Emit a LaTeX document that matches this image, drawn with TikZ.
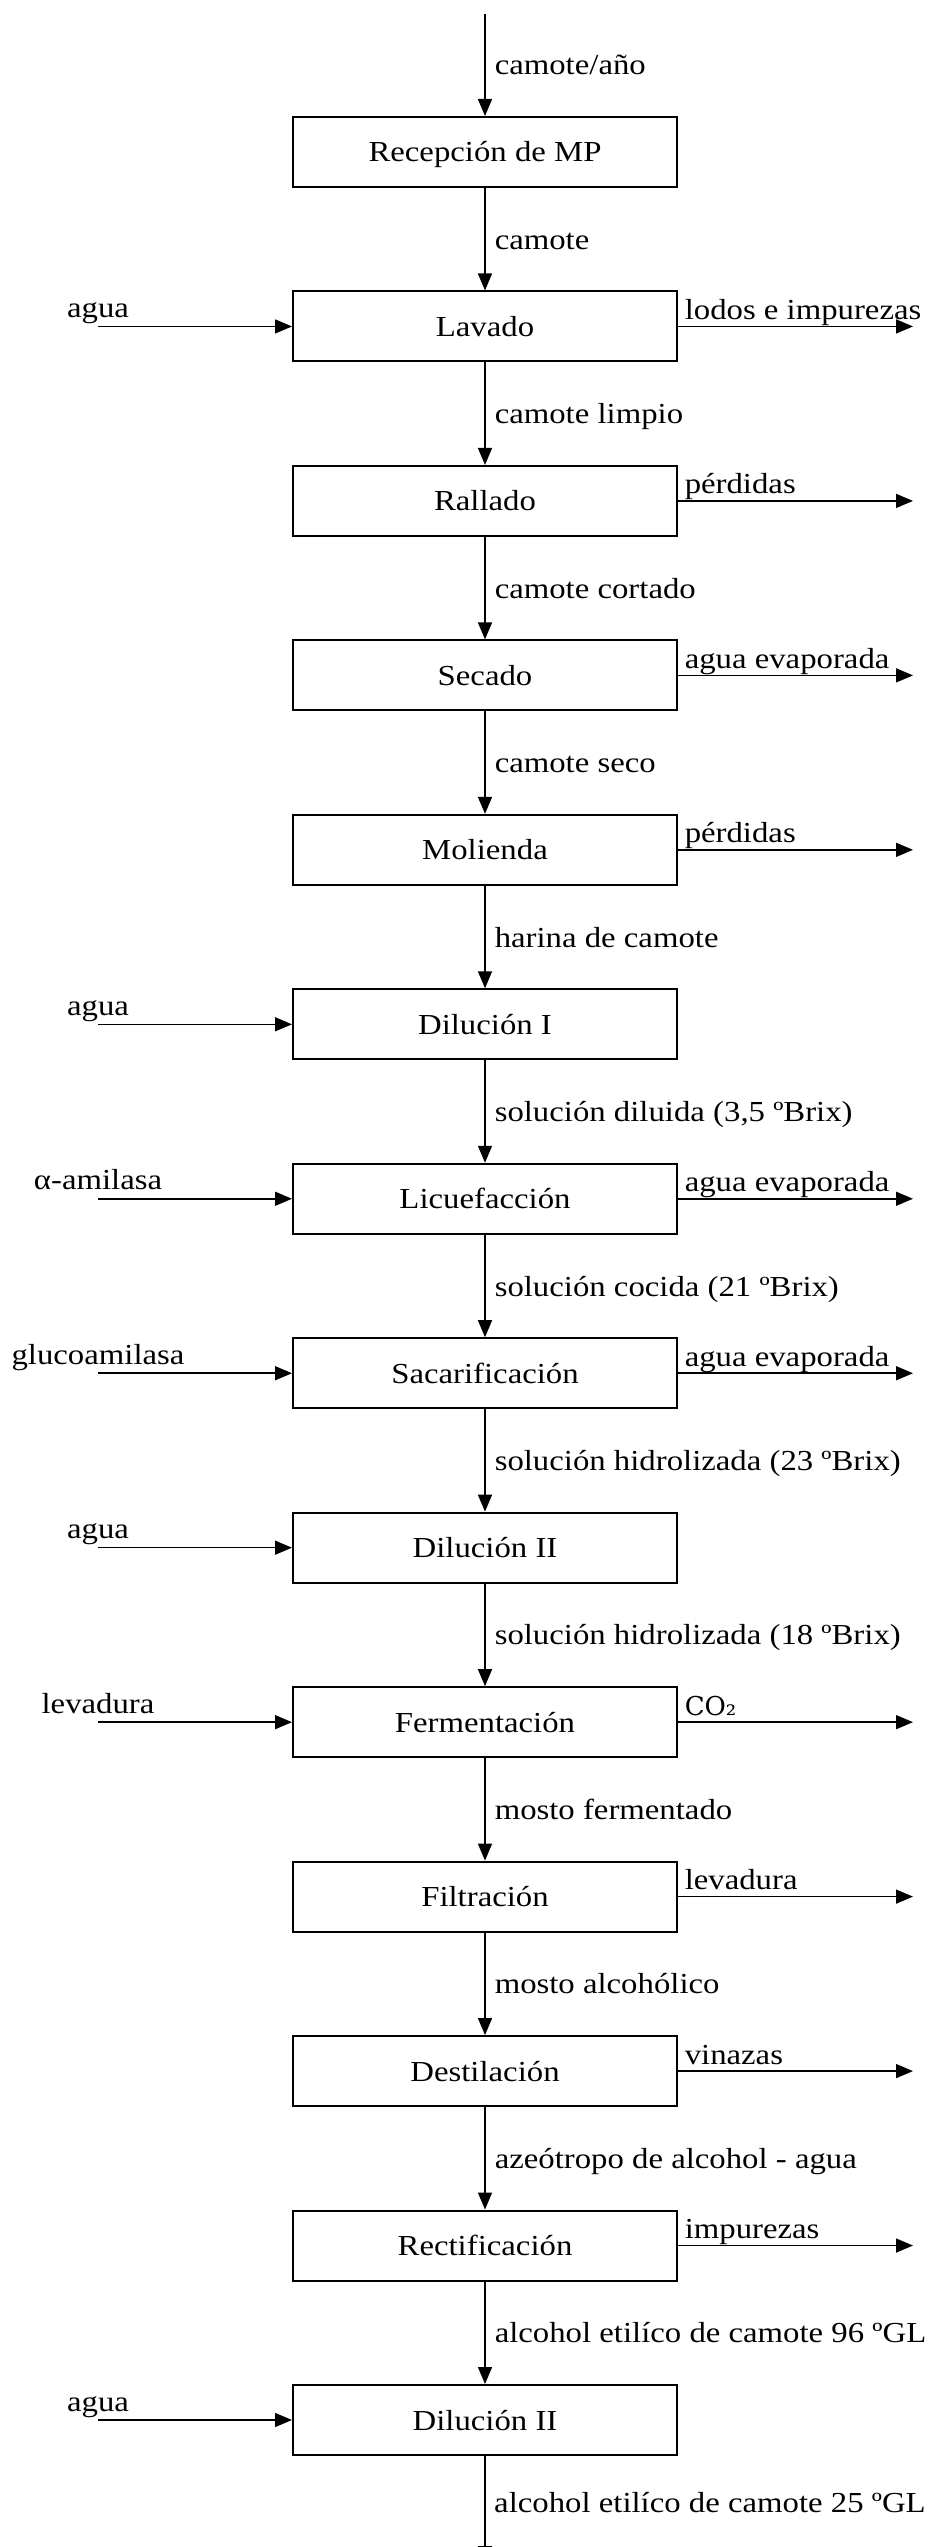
\documentclass[tikz,border=0pt]{standalone}
\usepackage{fontspec}
\setmainfont{Liberation Serif}[FakeStretch=1.13]
\newfontfamily\chemfont{DejaVu Serif}
\usetikzlibrary{arrows.meta}
\begin{document}
\begin{tikzpicture}[x=1pt,y=-1pt,
  font=\fontsize{29pt}{34pt}\selectfont,
  proc/.style={draw, line width=2pt, minimum width=384pt, minimum height=70pt,
    text height=20pt, text depth=0pt, inner sep=0pt},
  flow/.style={line width=1.5pt, -{Triangle[length=17pt,width=14pt]}},
  flowlabel/.style={midway, anchor=base west, xshift=9pt, yshift=-10pt, inner sep=0pt},
  outlabel/.style={pos=0, anchor=base west, xshift=6pt, yshift=7pt, inner sep=0pt},
  inlabel/.style={anchor=base, inner sep=0pt}]
\useasboundingbox (0,0) rectangle (931,2547);
\clip (0,0) rectangle (931,2547);

% process blocks
\node[proc] (b0)  at (485,152)     {Recepción de MP};
\node[proc] (b1)  at (485,326.46)  {Lavado};
\node[proc] (b2)  at (485,500.92)  {Rallado};
\node[proc] (b3)  at (485,675.38)  {Secado};
\node[proc] (b4)  at (485,849.84)  {Molienda};
\node[proc] (b5)  at (485,1024.3)  {Dilución I};
\node[proc] (b6)  at (485,1198.76) {Licuefacción};
\node[proc] (b7)  at (485,1373.22) {Sacarificación};
\node[proc] (b8)  at (485,1547.68) {Dilución II};
\node[proc] (b9)  at (485,1722.14) {Fermentación};
\node[proc] (b10) at (485,1896.6)  {Filtración};
\node[proc] (b11) at (485,2071.06) {Destilación};
\node[proc] (b12) at (485,2245.52) {Rectificación};
\node[proc] (b13) at (485,2419.98) {Dilución II};

% main stream
\coordinate (top) at (485,14);
\coordinate (bot) at (485,2563);
\draw[flow] (top) -- (b0) node[flowlabel] {camote/año};
\draw[flow] (b0) -- (b1) node[flowlabel] {camote};
\draw[flow] (b1) -- (b2) node[flowlabel] {camote limpio};
\draw[flow] (b2) -- (b3) node[flowlabel] {camote cortado};
\draw[flow] (b3) -- (b4) node[flowlabel] {camote seco};
\draw[flow] (b4) -- (b5) node[flowlabel] {harina de camote};
\draw[flow] (b5) -- (b6) node[flowlabel] {solución diluida (3,5 ºBrix)};
\draw[flow] (b6) -- (b7) node[flowlabel] {solución cocida (21 ºBrix)};
\draw[flow] (b7) -- (b8) node[flowlabel] {solución hidrolizada (23 ºBrix)};
\draw[flow] (b8) -- (b9) node[flowlabel] {solución hidrolizada (18 ºBrix)};
\draw[flow] (b9) -- (b10) node[flowlabel] {mosto fermentado};
\draw[flow] (b10) -- (b11) node[flowlabel] {mosto alcohólico};
\draw[flow] (b11) -- (b12) node[flowlabel] {azeótropo de alcohol - agua};
\draw[flow] (b12) -- (b13) node[flowlabel] {alcohol etilíco de camote 96 ºGL};
\draw[flow] (b13) -- (bot);
\node[anchor=base west, inner sep=0pt] (lastlabel) at (494,2512) {alcohol etilíco de camote 25 ºGL};

% inputs from the left
\coordinate (in1)  at (98,326.46);
\coordinate (in5)  at (98,1024.3);
\coordinate (in6)  at (98,1198.76);
\coordinate (in7)  at (98,1373.22);
\coordinate (in8)  at (98,1547.68);
\coordinate (in9)  at (98,1722.14);
\coordinate (in13) at (98,2419.98);
\draw[flow] (in1) -- (b1);
\draw[flow] (in5) -- (b5);
\draw[flow] (in6) -- (b6);
\draw[flow] (in7) -- (b7);
\draw[flow] (in8) -- (b8);
\draw[flow] (in9) -- (b9);
\draw[flow] (in13) -- (b13);
\node[inlabel] (l1)  at ([yshift=9pt]in1)  {agua};
\node[inlabel] (l5)  at ([yshift=9pt]in5)  {agua};
\node[inlabel] (l6)  at ([yshift=9pt]in6)  {α-amilasa};
\node[inlabel] (l7)  at ([yshift=9pt]in7)  {glucoamilasa};
\node[inlabel] (l8)  at ([yshift=9pt]in8)  {agua};
\node[inlabel] (l9)  at ([yshift=9pt]in9)  {levadura};
\node[inlabel] (l13) at ([yshift=9pt]in13) {agua};

% outputs to the right
\coordinate (out1)  at (913,326.46);
\coordinate (out2)  at (913,500.92);
\coordinate (out3)  at (913,675.38);
\coordinate (out4)  at (913,849.84);
\coordinate (out6)  at (913,1198.76);
\coordinate (out7)  at (913,1373.22);
\coordinate (out9)  at (913,1722.14);
\coordinate (out10) at (913,1896.6);
\coordinate (out11) at (913,2071.06);
\coordinate (out12) at (913,2245.52);
\draw[flow] (b1) -- (out1) node[outlabel] {lodos e impurezas};
\draw[flow] (b2) -- (out2) node[outlabel] {pérdidas};
\draw[flow] (b3) -- (out3) node[outlabel] {agua evaporada};
\draw[flow] (b4) -- (out4) node[outlabel] {pérdidas};
\draw[flow] (b6) -- (out6) node[outlabel] {agua evaporada};
\draw[flow] (b7) -- (out7) node[outlabel] {agua evaporada};
\draw[flow] (b9) -- (out9) node[outlabel] {{\chemfont\fontsize{26pt}{30pt}\selectfont CO₂}};
\draw[flow] (b10) -- (out10) node[outlabel] {levadura};
\draw[flow] (b11) -- (out11) node[outlabel] {vinazas};
\draw[flow] (b12) -- (out12) node[outlabel] {impurezas};
\end{tikzpicture}
\end{document}
